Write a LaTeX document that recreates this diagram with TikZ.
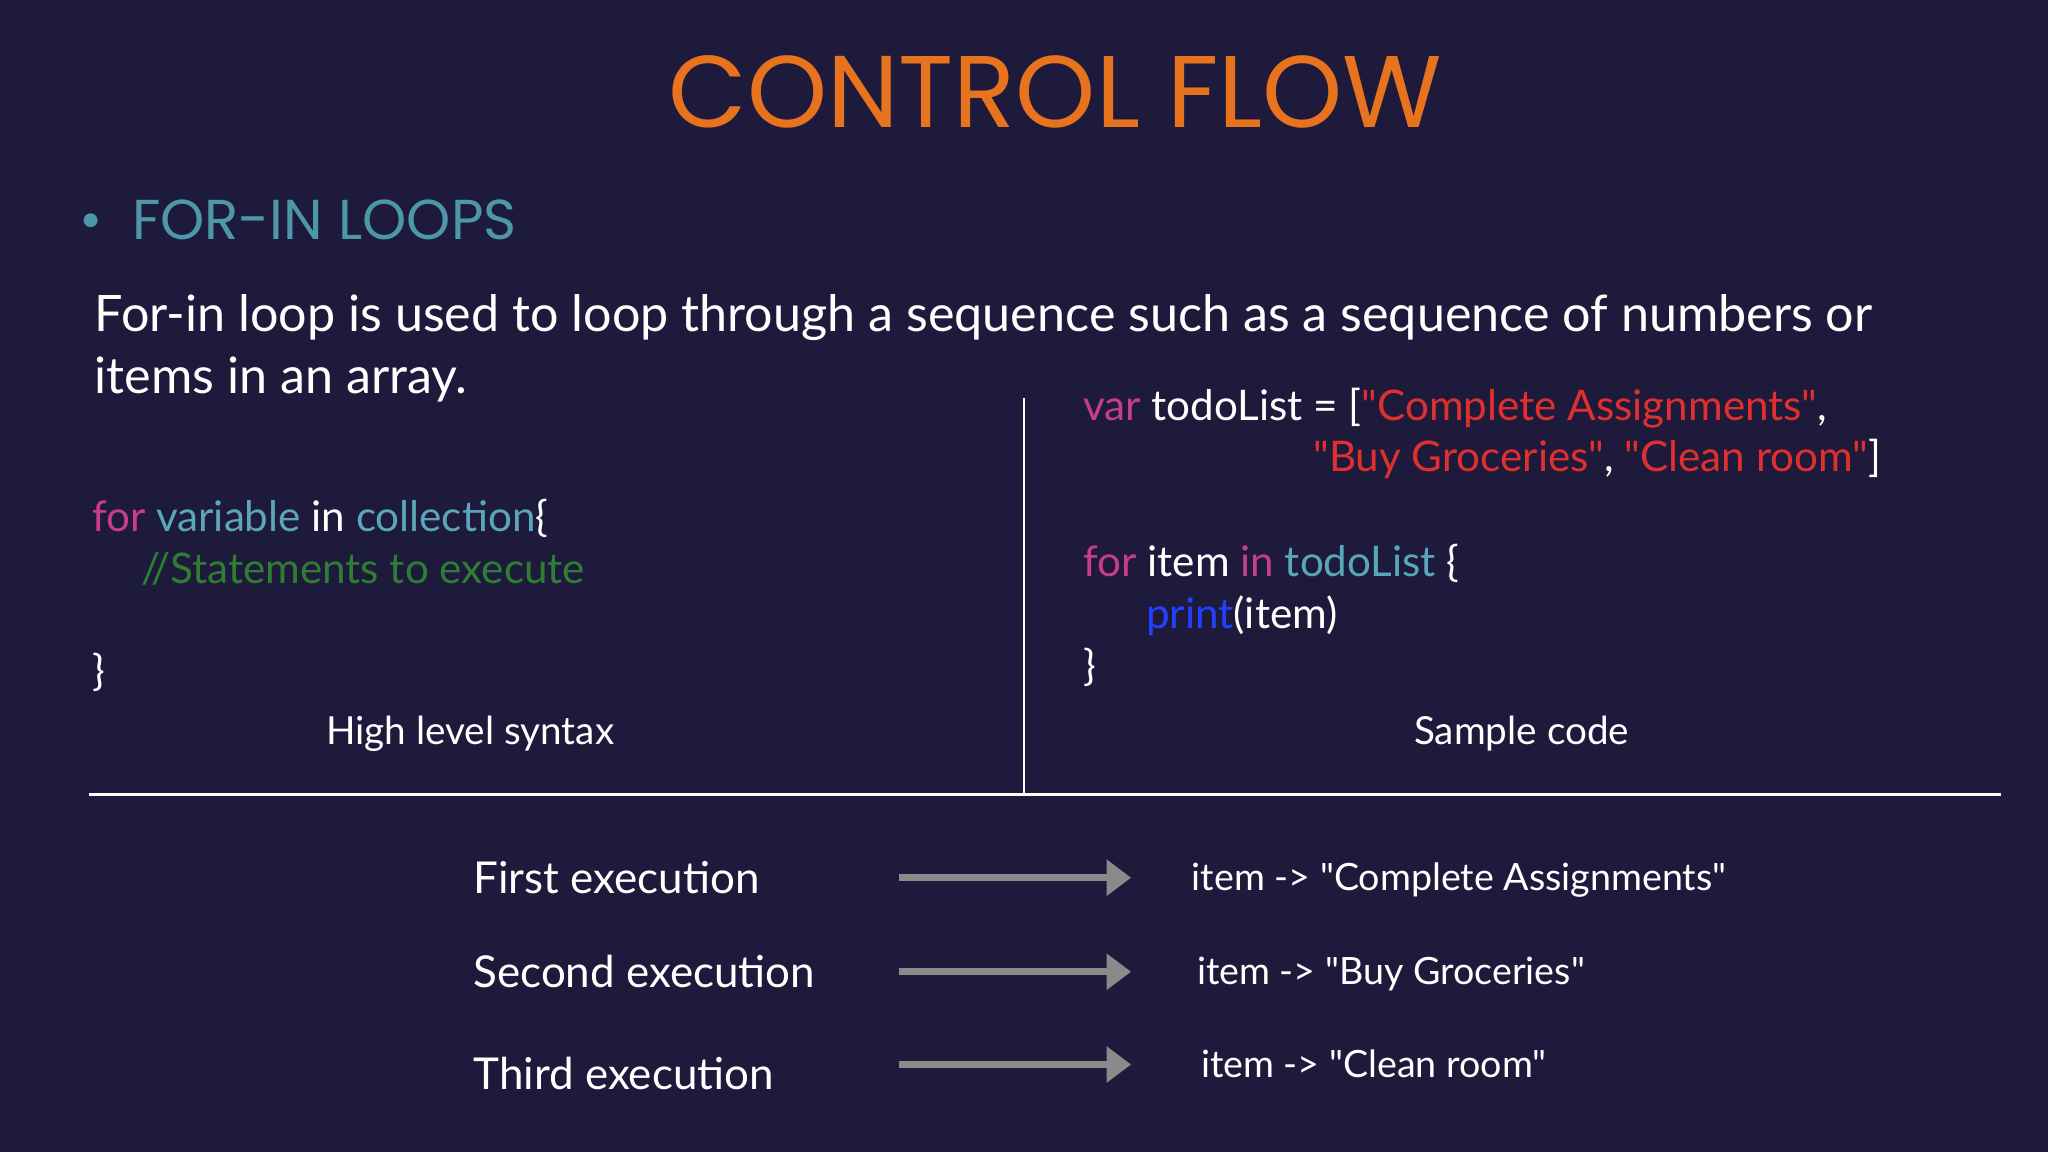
\documentclass[tikz,border=0pt]{standalone}
\usepackage{fontspec}
\setmainfont{Lato}[Ligatures=TeXOff]
\newfontfamily\titlefont{Poppins}
\usetikzlibrary{arrows.meta}
\definecolor{bg}{HTML}{1E1A3C}
\definecolor{ttl}{HTML}{E8731E}
\definecolor{sub}{HTML}{4E97A8}
\definecolor{kw}{HTML}{C83C8C}
\definecolor{idn}{HTML}{5AA6BA}
\definecolor{cmt}{HTML}{2E7D32}
\definecolor{str}{HTML}{E0302E}
\definecolor{fn}{HTML}{2340FF}
\definecolor{arr}{HTML}{8A8A8A}
\newcommand{\qq}{\char"22\relax}
\tikzset{
  txt/.style={text=white,inner sep=0pt,anchor=base west,font=\fontsize{14.3}{18}\selectfont},
  code/.style={text=white,inner sep=0pt,anchor=base west,font=\fontsize{12}{15}\selectfont},
  captxt/.style={text=white,inner sep=0pt,anchor=base,font=\fontsize{11}{14}\selectfont},
  exe/.style={text=white,inner sep=0pt,anchor=base west,font=\fontsize{12.5}{15}\selectfont},
  res/.style={text=white,inner sep=0pt,anchor=base west,font=\fontsize{10.7}{14}\selectfont},
  rulestyle/.style={white,line width=0.8pt},
  garrow/.style={arr,line width=2pt,-{Triangle[length=7pt,width=10pt]}}
}
\begin{document}
\begin{tikzpicture}[x=0.01306cm,y=-0.01306cm]
\useasboundingbox (0,0) rectangle (1568,882);
\fill[bg] (0,0) rectangle (1568,882);
\node[text=ttl,inner sep=0pt,anchor=base,font=\titlefont\fontsize{29}{33}\selectfont] (title) at (808,98) {CONTROL FLOW};
\node[text=sub,inner sep=0pt,anchor=base west,font=\titlefont\fontsize{16}{19}\selectfont] (sub) at (60,183) {\textbullet\ \ FOR-IN LOOPS};
\node[txt] (l1) at (72,254) {For-in loop is used to loop through a sequence such as a sequence of numbers or};
\node[txt] (l2) at (72,301) {items in an array.};
\node[code] (c1) at (70,407) {\textcolor{kw}{for} \textcolor{idn}{variable} in \textcolor{idn}{collection}\{};
\node[code] (c2) at (108,447) {\textcolor{cmt}{//Statements to execute}};
\node[code] (c3) at (70,525) {\}};
\node[captxt] (hl) at (360,570) {High level syntax};
\node[code] (r1) at (829,322) {\textcolor{kw}{var} todoList = [\textcolor{str}{\qq Complete Assignments\qq},};
\node[code] (r2) at (1005,361) {\textcolor{str}{\qq Buy Groceries\qq}, \textcolor{str}{\qq Clean room\qq}]};
\node[code] (r3) at (829,441) {\textcolor{kw}{for} item \textcolor{kw}{in} \textcolor{idn}{todoList} \{};
\node[code] (r4) at (877,481) {\textcolor{fn}{print}(item)};
\node[code] (r5) at (829,521) {\}};
\node[captxt] (sc) at (1165,570) {Sample code};
\coordinate (vt) at (784,305); \coordinate (vb) at (784,607);
\coordinate (hl1) at (68,608); \coordinate (hl2) at (1532,608);
\draw[rulestyle] (vt) -- (vb);
\draw[rulestyle] (hl1) -- (hl2);
\node[exe] (e1) at (362,684) {First execution};
\node[exe] (e2) at (362,756) {Second execution};
\node[exe] (e3) at (362,834) {Third execution};
\coordinate (a1s) at (688,672); \coordinate (a1e) at (866,672);
\coordinate (a2s) at (688,744); \coordinate (a2e) at (866,744);
\coordinate (a3s) at (688,815); \coordinate (a3e) at (866,815);
\draw[garrow] (a1s) -- (a1e);
\draw[garrow] (a2s) -- (a2e);
\draw[garrow] (a3s) -- (a3e);
\node[res] (o1) at (912,682) {item -> \qq Complete Assignments\qq};
\node[res] (o2) at (916,754) {item -> \qq Buy Groceries\qq};
\node[res] (o3) at (919,825) {item -> \qq Clean room\qq};
\end{tikzpicture}
\end{document}
